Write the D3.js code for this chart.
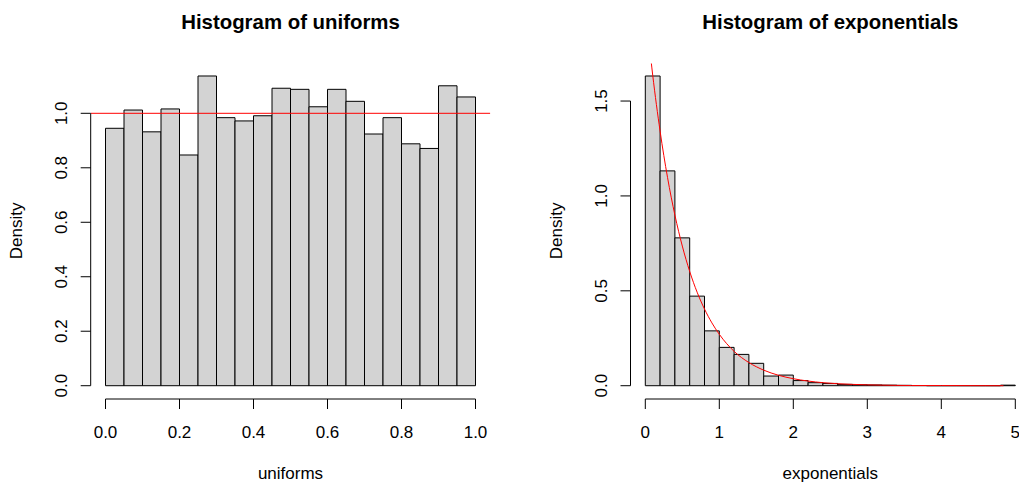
<!DOCTYPE html>
<html>
<head>
<meta charset="utf-8">
<script src="https://d3js.org/d3.v7.min.js"></script>
<style>
  body { margin: 0; background: #fff; }
  svg text { font-family: "Liberation Sans", Arial, sans-serif; fill: #000; }
</style>
</head>
<body>
<script>
// data
var uniformBreaks = [0, 0.05, 0.1, 0.15, 0.2, 0.25, 0.3, 0.35, 0.4, 0.45, 0.5,
                     0.55, 0.6, 0.65, 0.7, 0.75, 0.8, 0.85, 0.9, 0.95, 1.0];
var uniformDensity = [0.945, 1.012, 0.932, 1.016, 0.847, 1.137, 0.984, 0.972, 0.991, 1.092,
                      1.088, 1.024, 1.088, 1.044, 0.924, 0.984, 0.888, 0.871, 1.101, 1.060];
var uniformRef = 1.0;

var expBreaks = [0, 0.2, 0.4, 0.6, 0.8, 1.0, 1.2, 1.4, 1.6, 1.8, 2.0, 2.2, 2.4,
                 2.6, 2.8, 3.0, 3.2, 3.4, 3.6, 3.8, 4.0, 4.2, 4.4, 4.6, 4.8, 5.0];
var expDensity = [1.632, 1.132, 0.779, 0.472, 0.289, 0.202, 0.165, 0.118, 0.051, 0.056,
                  0.027, 0.016, 0.012, 0.007, 0.005, 0.004, 0.003, 0.002, 0.001, 0,
                  0, 0, 0, 0, 0.003];
// density curve drawn over the right histogram
var curveX = [0, 0.1, 0.2, 0.3, 0.4, 0.5, 0.6, 0.7, 0.8, 0.9, 1.0, 1.2, 1.4, 1.6, 1.8,
              2.0, 2.4, 2.8, 3.2, 3.6, 4.0, 4.84];
var curveY = [2.000, 1.637, 1.341, 1.098, 0.899, 0.736, 0.602, 0.493, 0.404, 0.331, 0.271,
              0.181, 0.122, 0.082, 0.055, 0.037, 0.016, 0.007, 0.003, 0.001, 0.001, 0.000];

var uniformXTicks = [0, 0.2, 0.4, 0.6, 0.8, 1.0];
var uniformYTicks = [0, 0.2, 0.4, 0.6, 0.8, 1.0];
var expXTicks = [0, 1, 2, 3, 4, 5];
var expYTicks = [0, 0.5, 1.0, 1.5];

var W = 1019, H = 483;
var plotTop = 63.6, plotBottom = 398.1, axisY = 399;

var svg = d3.select("body").append("svg")
    .attr("width", W).attr("height", H);

function panel(opt) {
    var b = opt.breaks;
    var xr = b[b.length - 1] - b[0];
    var x = d3.scaleLinear()
        .domain([b[0] - 0.04 * xr, b[b.length - 1] + 0.04 * xr])
        .range([opt.left, opt.left + 399.6]);
    var ymax = d3.max(opt.dens);
    var y = d3.scaleLinear()
        .domain([-0.04 * ymax, ymax * 1.04])
        .range([plotBottom, plotTop]);

    var g = svg.append("g");
    var id = "clip" + opt.key;
    g.append("clipPath").attr("id", id).append("rect")
        .attr("x", x.range()[0]).attr("y", plotTop)
        .attr("width", x.range()[1] - x.range()[0]).attr("height", plotBottom - plotTop);

    // bars as closed paths, so empty bins still show their bottom edge
    g.selectAll("path.bar").data(opt.dens).enter().append("path")
        .attr("class", "bar")
        .attr("d", function(d, i) {
            var x0 = x(b[i]), x1 = x(b[i + 1]), y0 = y(0), y1 = y(d);
            return "M" + x0 + "," + y0 + "V" + y1 + "H" + x1 + "V" + y0 + "Z";
        })
        .attr("fill", "#d3d3d3")
        .attr("stroke", "#000")
        .attr("stroke-width", 1);

    opt.overlay(g.append("g").attr("clip-path", "url(#" + id + ")"), x, y);

    // x axis
    var xa = g.append("g");
    xa.append("line")
        .attr("x1", x(opt.xticks[0])).attr("x2", x(opt.xticks[opt.xticks.length - 1]))
        .attr("y1", axisY).attr("y2", axisY).attr("stroke", "#000");
    xa.selectAll("line.t").data(opt.xticks).enter().append("line")
        .attr("class", "t")
        .attr("x1", x).attr("x2", x)
        .attr("y1", axisY).attr("y2", axisY + 10).attr("stroke", "#000");
    xa.selectAll("text").data(opt.xticks).enter().append("text")
        .attr("x", x).attr("y", axisY + 38.5)
        .attr("text-anchor", "middle").style("font-size", "17px")
        .text(opt.xfmt);

    // y axis
    var ax = x.range()[0];
    var ya = g.append("g");
    ya.append("line")
        .attr("x1", ax).attr("x2", ax)
        .attr("y1", y(opt.yticks[0])).attr("y2", y(opt.yticks[opt.yticks.length - 1]))
        .attr("stroke", "#000");
    ya.selectAll("line.t").data(opt.yticks).enter().append("line")
        .attr("class", "t")
        .attr("x1", ax).attr("x2", ax - 10)
        .attr("y1", y).attr("y2", y).attr("stroke", "#000");
    ya.selectAll("text").data(opt.yticks).enter().append("text")
        .attr("transform", function(d) { return "translate(" + (ax - 24) + "," + y(d) + ") rotate(-90)"; })
        .attr("text-anchor", "middle").style("font-size", "17px")
        .text(d3.format(".1f"));

    // titles and labels
    var cx = (x.range()[0] + x.range()[1]) / 2;
    g.append("text").attr("x", cx).attr("y", 28.5)
        .attr("text-anchor", "middle")
        .style("font-size", "20.4px").style("font-weight", "bold")
        .text(opt.title);
    g.append("text").attr("x", cx).attr("y", axisY + 79.5)
        .attr("text-anchor", "middle").style("font-size", "17px")
        .text(opt.xlab);
    g.append("text")
        .attr("transform", "translate(" + (ax - 69) + "," + ((plotTop + plotBottom) / 2) + ") rotate(-90)")
        .attr("text-anchor", "middle").style("font-size", "17px")
        .text("Density");
}

panel({
    key: "u", left: 90.7, breaks: uniformBreaks, dens: uniformDensity,
    xticks: uniformXTicks, yticks: uniformYTicks, xfmt: d3.format(".1f"),
    title: "Histogram of uniforms", xlab: "uniforms",
    overlay: function(g, x, y) {
        g.append("line")
            .attr("x1", x.range()[0]).attr("x2", x.range()[1])
            .attr("y1", y(uniformRef)).attr("y2", y(uniformRef))
            .attr("stroke", "red").attr("stroke-width", 1);
    }
});

panel({
    key: "e", left: 630.5, breaks: expBreaks, dens: expDensity,
    xticks: expXTicks, yticks: expYTicks, xfmt: d3.format("d"),
    title: "Histogram of exponentials", xlab: "exponentials",
    overlay: function(g, x, y) {
        var line = d3.line()
            .x(function(d, i) { return x(curveX[i]); })
            .y(function(d) { return y(d); })
            .curve(d3.curveMonotoneX);
        g.append("path").datum(curveY)
            .attr("d", line)
            .attr("fill", "none")
            .attr("stroke", "red").attr("stroke-width", 1);
    }
});
</script>
</body>
</html>
